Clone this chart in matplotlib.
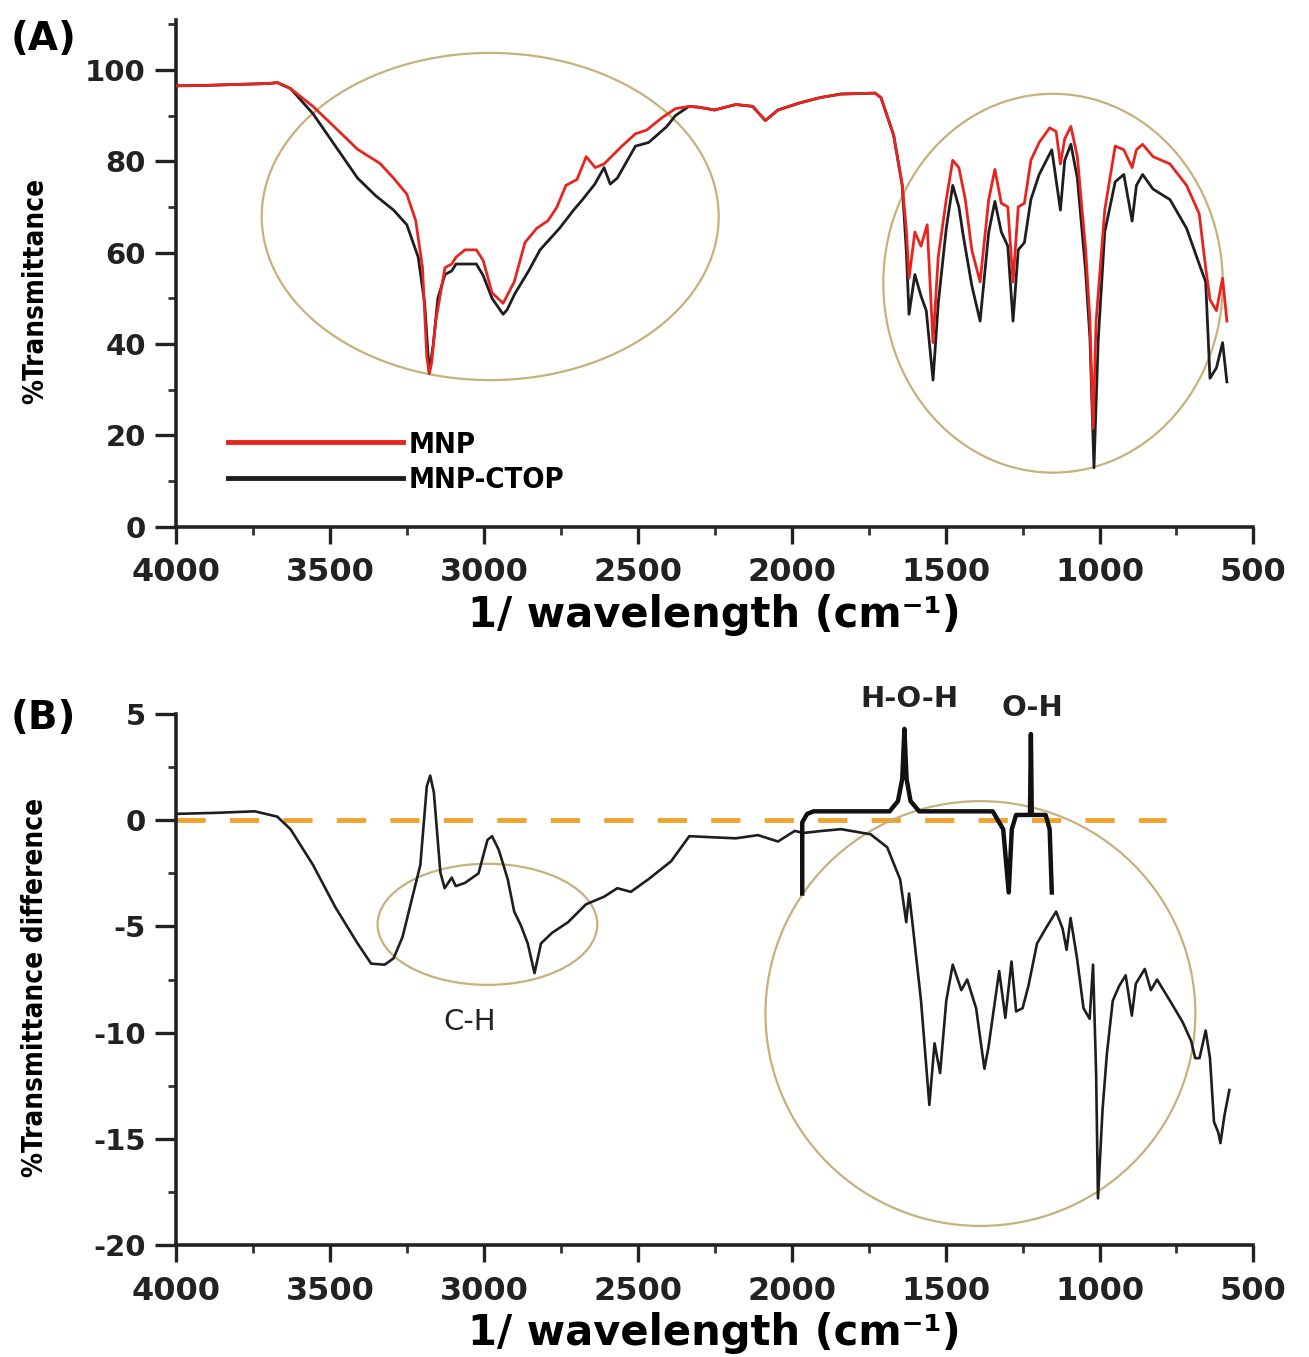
import os
import matplotlib.pyplot as plt
import numpy as np
from matplotlib import font_manager as fm
from matplotlib.patches import Ellipse
from matplotlib.ticker import MultipleLocator

plt.rcParams['axes.unicode_minus'] = False

# ---- panel A: FTIR spectra (%T) ----
mnp_wn = [4000, 3900, 3800, 3700, 3672, 3629, 3556, 3483, 3411, 3338, 3294, 3251, 3222, 3200,
          3186, 3178, 3170, 3157, 3127, 3105, 3091, 3062, 3025, 3003, 2974, 2938, 2902, 2867,
          2829, 2792, 2763, 2734, 2698, 2668, 2639, 2610, 2552, 2508, 2472, 2420, 2378, 2334,
          2300, 2251, 2182, 2127, 2086, 2045, 1977, 1909, 1840, 1729, 1710, 1669, 1641, 1628,
          1619, 1600, 1580, 1560, 1541, 1524, 1498, 1477, 1457, 1436, 1415, 1388, 1360, 1340,
          1319, 1298, 1281, 1264, 1244, 1223, 1196, 1162, 1141, 1127, 1113, 1093, 1072, 1045,
          1031, 1021, 1011, 983, 949, 921, 894, 880, 860, 826, 771, 717, 676, 655, 641, 620,
          600, 586]
mnp_t = [96.5, 96.6, 96.8, 97.0, 97.2, 95.9, 92.0, 87.3, 82.6, 79.5, 76.3, 72.8, 67.0, 56.7,
         37.2, 33.5, 36.0, 45.0, 56.7, 57.5, 59.0, 60.6, 60.6, 58.3, 51.2, 48.9, 53.6, 62.2,
         65.3, 67.0, 70.0, 74.7, 76.0, 81.0, 78.6, 79.4, 83.3, 86.0, 86.8, 89.6, 91.5, 92.0,
         91.8, 91.2, 92.4, 92.0, 88.9, 91.2, 92.7, 93.9, 94.7, 94.9, 93.9, 85.7, 74.7, 65.3,
         54.4, 64.5, 61.4, 66.1, 40.3, 59.1, 71.6, 80.2, 78.6, 71.6, 60.6, 53.6, 71.6, 78.2,
         70.8, 70.0, 53.6, 70.0, 70.8, 80.2, 84.1, 87.3, 86.5, 79.4, 84.9, 87.6, 81.0, 60.6,
         45.0, 21.5, 45.0, 69.3, 83.3, 82.5, 78.6, 82.5, 83.7, 81.0, 79.4, 74.7, 68.5, 56.7,
         49.7, 47.3, 54.4, 45.0]

ctop_wn = [4000, 3900, 3800, 3700, 3672, 3629, 3556, 3483, 3411, 3353, 3294, 3251, 3214, 3193,
           3178, 3165, 3150, 3127, 3105, 3091, 3062, 3025, 3003, 2974, 2938, 2925, 2900, 2855,
           2818, 2755, 2709, 2680, 2640, 2610, 2590, 2567, 2508, 2465, 2406, 2378, 2334, 2300,
           2251, 2182, 2127, 2086, 2045, 1977, 1909, 1840, 1729, 1710, 1669, 1641, 1628, 1619,
           1600, 1580, 1563, 1541, 1524, 1498, 1477, 1457, 1443, 1415, 1388, 1360, 1340, 1319,
           1298, 1281, 1264, 1244, 1223, 1196, 1155, 1127, 1113, 1093, 1072, 1045, 1031, 1018,
           1004, 983, 949, 921, 894, 880, 860, 826, 771, 717, 676, 655, 641, 620, 600, 586]
ctop_t = [96.5, 96.6, 96.8, 97.0, 97.2, 95.9, 90.4, 83.3, 76.3, 72.5, 69.3, 66.1, 59.0, 48.9,
          33.6, 40.0, 50.0, 55.2, 56.0, 57.5, 57.5, 57.5, 55.0, 50.0, 46.5, 47.5, 51.0, 56.0,
          60.6, 65.3, 69.3, 71.6, 75.0, 78.6, 75.0, 76.3, 83.3, 84.1, 87.6, 90.0, 92.0, 91.8,
          91.2, 92.4, 92.0, 88.9, 91.2, 92.7, 93.9, 94.7, 94.9, 93.9, 85.7, 74.7, 60.6, 46.5,
          55.2, 50.5, 47.3, 32.1, 48.9, 65.3, 74.7, 70.0, 63.8, 52.8, 45.0, 64.5, 71.2, 64.5,
          61.4, 45.0, 60.6, 62.2, 71.6, 77.1, 82.5, 69.3, 80.2, 83.7, 76.3, 55.9, 41.1, 12.9,
          41.1, 64.5, 75.5, 77.1, 66.9, 74.7, 77.1, 73.9, 71.6, 65.3, 57.5, 53.6, 32.5, 34.8,
          40.3, 31.7]

# ---- panel B: difference spectrum ----
diff_wn = [4000, 3870, 3745, 3672, 3629, 3556, 3483, 3411, 3367, 3323, 3294, 3265, 3236, 3207,
           3186, 3175, 3163, 3142, 3128, 3105, 3092, 3062, 3018, 2989, 2974, 2952, 2923, 2902,
           2880, 2858, 2836, 2815, 2779, 2727, 2669, 2610, 2567, 2523, 2466, 2392, 2333, 2260,
           2182, 2110, 2045, 1990, 1964, 1900, 1840, 1744, 1690, 1648, 1628, 1619, 1607, 1580,
           1553, 1536, 1518, 1498, 1477, 1449, 1430, 1401, 1374, 1361, 1326, 1306, 1286, 1271,
           1250, 1231, 1203, 1175, 1141, 1120, 1107, 1094, 1073, 1052, 1032, 1021, 1011, 1005,
           990, 976, 957, 936, 915, 895, 882, 853, 833, 813, 771, 730, 702, 689, 675, 655, 641,
           628, 614, 607, 594, 578]
diff_t = [0.3, 0.35, 0.42, 0.17, -0.42, -2.1, -4.1, -5.8, -6.75, -6.8, -6.5, -5.5, -3.8, -2.1,
          1.6, 2.1, 1.3, -2.45, -3.2, -2.7, -3.1, -2.95, -2.5, -0.93, -0.75, -1.4, -2.78, -4.3,
          -4.96, -5.8, -7.2, -5.8, -5.3, -4.8, -3.96, -3.6, -3.2, -3.37, -2.78, -1.93, -0.75,
          -0.8, -0.85, -0.7, -1.0, -0.5, -0.6, -0.5, -0.42, -0.66, -1.27, -2.78, -4.8, -3.45,
          -4.95, -8.5, -13.4, -10.5, -11.9, -8.5, -6.8, -8.0, -7.5, -8.85, -11.7, -10.7, -7.1,
          -9.3, -6.65, -9.0, -8.85, -7.8, -5.8, -5.1, -4.3, -5.1, -6.1, -4.6, -6.5, -8.85,
          -9.35, -6.8, -11.9, -17.8, -13.6, -11.0, -8.5, -7.8, -7.3, -9.2, -7.7, -7.0, -8.0,
          -7.5, -8.5, -9.5, -10.4, -11.2, -11.2, -9.9, -11.2, -14.2, -14.7, -15.2, -13.9, -12.7]

# schematic H-O-H / O-H trace
band_wn = [1966, 1966, 1950, 1929, 1682, 1655, 1641, 1634, 1627, 1614, 1586, 1347, 1313, 1295,
           1285, 1271, 1226, 1223, 1220, 1175, 1162, 1155]
band_t = [-3.45, -0.1, 0.3, 0.42, 0.42, 0.9, 1.95, 4.3, 1.95, 0.9, 0.42, 0.42, -0.42, -3.4,
          -0.42, 0.25, 0.25, 4.06, 0.25, 0.25, -0.42, -3.4]

RED = '#e8241e'
BLK = '#1e1e1e'
TAN = '#c8b07c'
ORANGE = '#f0a22e'


def narrow_bold(size):
    # look for an installed condensed bold face, else plain bold sans
    wanted = ['liberationsansnarrow-bold.ttf', 'dejavusanscondensed-bold.ttf',
              'notosans-condensedbold.ttf', 'notosans-semicondensedbold.ttf']
    files = {os.path.basename(f.fname).lower(): f.fname for f in fm.fontManager.ttflist}
    for w in wanted:
        if w in files:
            return fm.FontProperties(fname=files[w], size=size)
    return fm.FontProperties(family=['Liberation Sans', 'DejaVu Sans'], weight='bold',
                             size=size * 0.85)


def style_axis(ax, ylim, ymaj, ymin):
    ax.set_xlim(4000, 500)
    ax.set_ylim(*ylim)
    for s in ['top', 'right']:
        ax.spines[s].set_visible(False)
    for s in ['left', 'bottom']:
        ax.spines[s].set_linewidth(2.6)
        ax.spines[s].set_color('#222222')
    ax.xaxis.set_major_locator(MultipleLocator(500))
    ax.xaxis.set_minor_locator(MultipleLocator(250))
    ax.yaxis.set_major_locator(MultipleLocator(ymaj))
    ax.yaxis.set_minor_locator(MultipleLocator(ymin))
    ax.tick_params(which='major', direction='out', length=12, width=2.4, colors='#222222')
    ax.tick_params(which='minor', direction='out', length=6, width=2.0, colors='#333333')
    ax.tick_params(axis='y', which='major', length=15)
    ax.tick_params(axis='x', pad=10, labelsize=23)
    ax.tick_params(axis='y', pad=7, labelsize=21)
    for lab in ax.get_xticklabels() + ax.get_yticklabels():
        lab.set_fontweight('bold')
        lab.set_fontfamily('DejaVu Sans')
    ax.set_xlabel('1/ wavelength (cm\u207b\u00b9)', fontsize=30, fontweight='bold',
                  family='DejaVu Sans', labelpad=4)


fig = plt.figure(figsize=(13.09, 13.57), dpi=100)
axA = fig.add_axes([0.1347, 0.6118, 0.8228, 0.3738])
axB = fig.add_axes([0.1347, 0.0825, 0.8228, 0.3913])

# panel A
axA.plot(ctop_wn, ctop_t, color=BLK, lw=2.0, label='MNP-CTOP', zorder=3)
axA.plot(mnp_wn, mnp_t, color=RED, lw=2.0, label='MNP', zorder=4)
axA.add_patch(Ellipse((2980, 67.9), 1485, 71.6, fill=False, ec=TAN, lw=1.6, zorder=2))
axA.add_patch(Ellipse((1151, 53.3), 1103, 82.9, fill=False, ec=TAN, lw=1.6, zorder=2))
style_axis(axA, (0, 111), 20, 10)
axA.set_ylabel('%Transmittance', fontproperties=narrow_bold(20))
axA.yaxis.set_label_coords(-0.118, 0.465)
h, l = axA.get_legend_handles_labels()
leg = axA.legend(h[::-1], l[::-1], loc='lower left', bbox_to_anchor=(0.048, 0.065),
                 frameon=False, handlelength=6.0, handletextpad=0.2, labelspacing=0.25,
                 borderpad=0, borderaxespad=0, prop=narrow_bold(21))
for line in leg.get_lines():
    line.set_linewidth(3.5)

# panel B
axB.plot(diff_wn, diff_t, color=BLK, lw=1.9, zorder=3)
axB.plot(band_wn, band_t, color='#111111', lw=3.2, zorder=4)
axB.plot([4000, 785], [0, 0], color=ORANGE, lw=3.5, dashes=(6, 5), zorder=2)
axB.add_patch(Ellipse((2989, -4.9), 714, 5.7, fill=False, ec=TAN, lw=1.6, zorder=2))
axB.add_patch(Ellipse((1387, -9.1), 1397, 20.0, fill=False, ec=TAN, lw=1.6, zorder=2))
style_axis(axB, (-20, 5), 5, 2.5)
axB.set_ylabel('%Transmittance difference', fontproperties=narrow_bold(20))
axB.yaxis.set_label_coords(-0.118, 0.485)
axB.text(3046, -9.5, 'C-H', fontsize=21, ha='center', va='center', family='DejaVu Sans',
         color='#222222')
axB.text(1619, 5.7, 'H-O-H', fontsize=21, fontweight='bold', ha='center', va='center',
         family='DejaVu Sans', color='#222222', clip_on=False)
axB.text(1218, 5.3, 'O-H', fontsize=21, fontweight='bold', ha='center', va='center',
         family='DejaVu Sans', color='#222222', clip_on=False)

fig.text(0.008, 0.963, '(A)', fontsize=28, fontweight='bold', family='DejaVu Sans',
         va='baseline')
fig.text(0.008, 0.4625, '(B)', fontsize=28, fontweight='bold', family='DejaVu Sans',
         va='baseline')

fig.savefig('out.png', dpi=100, facecolor='white')
